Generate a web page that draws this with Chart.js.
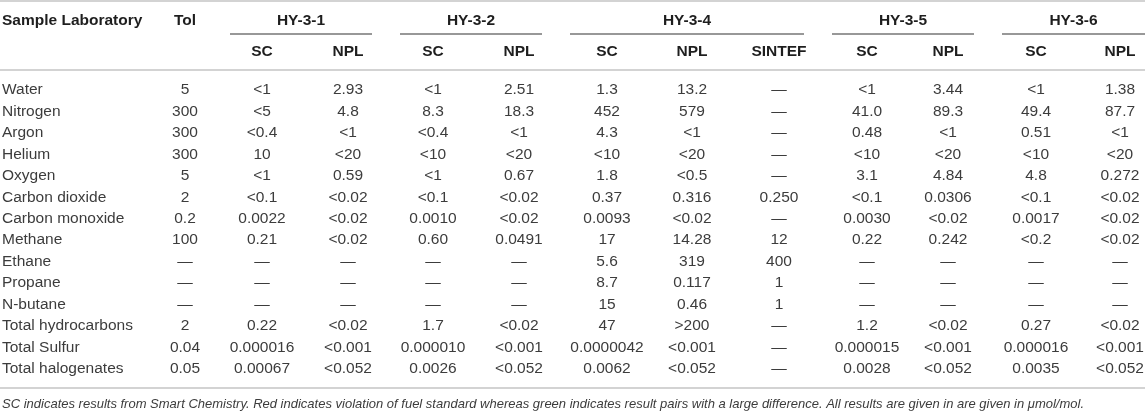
<!DOCTYPE html>
<html>
<head>
<meta charset="utf-8">
<script src="https://cdn.jsdelivr.net/npm/chart.js@4.4.1/dist/chart.umd.min.js"></script>
<style>
  html, body { margin: 0; padding: 0; background: #fff; }
  #wrap { width: 1145px; height: 413px; position: relative; }
</style>
</head>
<body>
<div id="wrap"><canvas id="chart"></canvas></div>
<script>
// table content
const categories = ["Water", "Nitrogen", "Argon", "Helium", "Oxygen", "Carbon dioxide", "Carbon monoxide",
    "Methane", "Ethane", "Propane", "N-butane", "Total hydrocarbons", "Total Sulfur", "Total halogenates"];
const tol      = ["5", "300", "300", "300", "5", "2", "0.2", "100", "—", "—", "—", "2", "0.04", "0.05"];
const hy31SC   = ["<1", "<5", "<0.4", "10", "<1", "<0.1", "0.0022", "0.21", "—", "—", "—", "0.22", "0.000016", "0.00067"];
const hy31NPL  = ["2.93", "4.8", "<1", "<20", "0.59", "<0.02", "<0.02", "<0.02", "—", "—", "—", "<0.02", "<0.001", "<0.052"];
const hy32SC   = ["<1", "8.3", "<0.4", "<10", "<1", "<0.1", "0.0010", "0.60", "—", "—", "—", "1.7", "0.000010", "0.0026"];
const hy32NPL  = ["2.51", "18.3", "<1", "<20", "0.67", "<0.02", "<0.02", "0.0491", "—", "—", "—", "<0.02", "<0.001", "<0.052"];
const hy34SC   = ["1.3", "452", "4.3", "<10", "1.8", "0.37", "0.0093", "17", "5.6", "8.7", "15", "47", "0.0000042", "0.0062"];
const hy34NPL  = ["13.2", "579", "<1", "<20", "<0.5", "0.316", "<0.02", "14.28", "319", "0.117", "0.46", ">200", "<0.001", "<0.052"];
const hy34SINTEF = ["—", "—", "—", "—", "—", "0.250", "—", "12", "400", "1", "1", "—", "—", "—"];
const hy35SC   = ["<1", "41.0", "0.48", "<10", "3.1", "<0.1", "0.0030", "0.22", "—", "—", "—", "1.2", "0.000015", "0.0028"];
const hy35NPL  = ["3.44", "89.3", "<1", "<20", "4.84", "0.0306", "<0.02", "0.242", "—", "—", "—", "<0.02", "<0.001", "<0.052"];
const hy36SC   = ["<1", "49.4", "0.51", "<10", "4.8", "<0.1", "0.0017", "<0.2", "—", "—", "—", "0.27", "0.000016", "0.0035"];
const hy36NPL  = ["1.38", "87.7", "<1", "<20", "0.272", "<0.02", "<0.02", "<0.02", "—", "—", "—", "<0.02", "<0.001", "<0.052"];

const groups = ["HY-3-1", "HY-3-2", "HY-3-4", "HY-3-5", "HY-3-6"];
const subHeaders = ["SC", "NPL", "SC", "NPL", "SC", "NPL", "SINTEF", "SC", "NPL", "SC", "NPL"];
const footnote = "SC indicates results from Smart Chemistry. Red indicates violation of fuel standard whereas green indicates result pairs with a large difference. All results are given in are given in μmol/mol.";

// layout (x in pixels of the x scale, y in row units of the y scale)
const columns = [tol, hy31SC, hy31NPL, hy32SC, hy32NPL, hy34SC, hy34NPL, hy34SINTEF, hy35SC, hy35NPL, hy36SC, hy36NPL];
const colX = [185, 262, 348, 433, 519, 607, 692, 779, 867, 948, 1036, 1120];
const groupSpan = [[230, 372], [400, 542], [570, 804], [832, 974], [1002, 1145]];
const rowY = { topLine: -4.15, head: -3.23, underline: -2.61, sub: -1.79, headLine: -0.93, bottomLine: 13.89, note: 14.67 };

const FONT = "'Liberation Sans', Arial, Helvetica, sans-serif";

const datasets = [{
    data: categories.map((c, i) => ({ x: 2, y: i, text: c })),
    align: "left",
    pointRadius: 0
}];
columns.forEach(function (col, c) {
    datasets.push({
        data: col.map((v, i) => ({ x: colX[c], y: i, text: v })),
        align: "center",
        pointRadius: 0
    });
});

const tablePlugin = {
    id: "table",
    afterDraw(chart) {
        const ctx = chart.ctx;
        const xs = chart.scales.x;
        const ys = chart.scales.y;
        const px = v => xs.getPixelForValue(v);
        const py = v => ys.getPixelForValue(v);

        function hline(x1, x2, y, color, width) {
            ctx.save();
            ctx.strokeStyle = color;
            ctx.lineWidth = width;
            ctx.beginPath();
            ctx.moveTo(px(x1), py(y));
            ctx.lineTo(px(x2), py(y));
            ctx.stroke();
            ctx.restore();
        }

        // rules
        hline(0, 1145, rowY.topLine, "#d3d3d3", 2);
        hline(0, 1145, rowY.headLine, "#d3d3d3", 2);
        hline(0, 1145, rowY.bottomLine, "#d3d3d3", 2);
        groupSpan.forEach(s => hline(s[0], s[1], rowY.underline, "#333", 1.2));

        ctx.save();
        ctx.textBaseline = "middle";
        ctx.fillStyle = "#1e1e1e";
        ctx.font = "bold 15.5px " + FONT;
        ctx.textAlign = "left";
        ctx.fillText("Sample Laboratory", px(2), py(rowY.head));
        ctx.textAlign = "center";
        ctx.fillText("Tol", px(colX[0]), py(rowY.head));
        groups.forEach(function (g, i) {
            ctx.fillText(g, px((groupSpan[i][0] + groupSpan[i][1]) / 2), py(rowY.head));
        });
        subHeaders.forEach(function (s, i) {
            ctx.fillText(s, px(colX[i + 1]), py(rowY.sub));
        });

        // body cells, placed at each dataset point
        ctx.font = "15.5px " + FONT;
        ctx.fillStyle = "#3c3c3c";
        chart.data.datasets.forEach(function (ds, d) {
            const meta = chart.getDatasetMeta(d);
            ctx.textAlign = ds.align;
            meta.data.forEach(function (pt, i) {
                ctx.fillText(ds.data[i].text, pt.x, pt.y);
            });
        });

        ctx.font = "italic 13px " + FONT;
        ctx.textAlign = "left";
        ctx.fillText(footnote, px(2), py(rowY.note));
        ctx.restore();
    }
};

new Chart(document.getElementById("chart"), {
    type: "scatter",
    data: { datasets: datasets },
    options: {
        responsive: true,
        maintainAspectRatio: false,
        animation: false,
        events: [],
        layout: { padding: 0 },
        plugins: { legend: { display: false }, tooltip: { enabled: false } },
        scales: {
            x: { type: "linear", min: 0, max: 1145, display: false },
            y: { type: "linear", min: -4.196, max: 15.058, reverse: true, display: false }
        }
    },
    plugins: [tablePlugin]
});
</script>
</body>
</html>
